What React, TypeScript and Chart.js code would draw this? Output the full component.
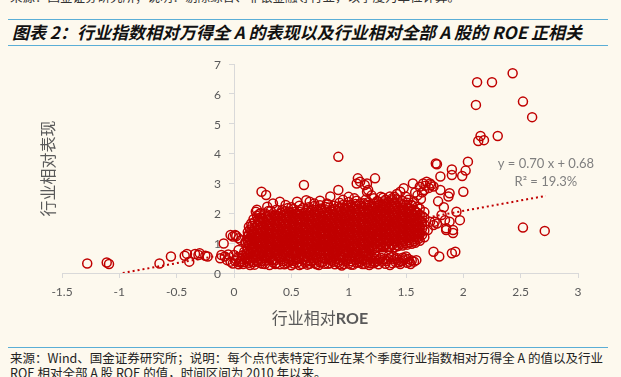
import React, { useEffect, useRef } from "react";
import { Chart, registerables } from "chart.js";

Chart.register(...registerables);

// ---- Data ----
const xTickValues = [-1.5, -1, -0.5, 0, 0.5, 1, 1.5, 2, 2.5, 3];
const yTickValues = [0, 1, 2, 3, 4, 5, 6, 7];

const leftTail: [number, number][] = [
  [-1.28, 0.32], [-1.11, 0.35], [-1.09, 0.3], [-0.65, 0.32], [-0.55, 0.55],
  [-0.43, 0.58], [-0.41, 0.64], [-0.39, 0.38], [-0.34, 0.64], [-0.3, 0.66],
  [-0.31, 0.6], [-0.25, 0.58], [-0.23, 0.55],
];

const nearZero: [number, number][] = [
  [-0.09, 0.99], [-0.03, 1.27], [-0.01, 1.22], [0.02, 1.24], [0.04, 1.16],
  [0.1, 1.01], [0.01, 1.27], [0.1, 1.05], [-0.11, 0.6], [0.06, 1.1],
];

const lowBand: [number, number][] = [
  [-0.12, 0.49], [-0.08, 0.55], [-0.06, 0.43], [-0.03, 0.38], [-0.01, 0.32], [0.02, 0.45], [0.04, 0.77],
  [0.05, 0.36], [0.07, 0.58], [0.08, 0.3], [0.1, 0.5], [0.11, 0.66], [0.13, 0.34], [0.14, 0.41],
  [0.15, 0.72], [0.16, 0.55], [0.18, 0.28], [0.19, 0.62], [0.21, 0.38], [0.22, 0.47], [0.24, 0.7],
  [0.25, 0.31], [0.26, 0.56], [0.28, 0.42], [0.29, 0.65], [0.31, 0.27], [0.32, 0.51], [0.34, 0.36],
  [0.35, 0.74], [0.37, 0.44], [0.38, 0.6], [0.4, 0.29], [0.41, 0.53], [0.43, 0.39], [0.44, 0.68],
  [0.46, 0.33], [0.47, 0.48], [0.49, 0.57], [0.5, 0.26], [0.52, 0.41], [0.53, 0.71], [0.55, 0.35],
  [0.56, 0.5], [0.58, 0.63], [0.59, 0.3], [0.61, 0.45], [0.62, 0.55], [0.64, 0.28], [0.65, 0.69],
  [0.67, 0.39], [0.68, 0.52], [0.7, 0.33], [0.71, 0.61], [0.73, 0.44], [0.74, 0.27], [0.76, 0.58],
  [0.77, 0.37], [0.79, 0.49], [0.8, 0.72], [0.82, 0.31], [0.83, 0.54], [0.85, 0.42], [0.86, 0.64],
  [0.88, 0.29], [0.89, 0.47], [0.91, 0.36], [0.92, 0.59], [0.94, 0.25], [0.95, 0.51], [0.97, 0.4],
  [0.98, 0.67], [1.0, 0.32], [1.01, 0.48], [1.03, 0.56], [1.04, 0.28], [1.06, 0.43], [1.07, 0.62],
  [1.09, 0.35], [1.1, 0.52], [1.12, 0.3], [1.13, 0.46], [1.15, 0.58], [1.16, 0.37], [1.18, 0.27],
  [1.19, 0.5], [1.21, 0.41], [1.22, 0.33], [1.24, 0.55], [1.26, 0.29], [1.27, 0.45], [1.29, 0.38],
  [1.3, 0.6], [1.32, 0.31], [1.34, 0.48], [1.36, 0.27], [1.37, 0.53], [1.39, 0.55], [1.41, 0.36],
  [1.43, 0.44], [1.45, 0.3], [1.47, 0.51], [1.49, 0.49], [1.51, 0.34], [1.53, 0.38], [1.55, 0.42],
  [1.59, 0.43],
  [0.0, 0.6], [0.03, 0.52], [0.06, 0.4], [0.09, 0.71], [0.12, 0.47], [0.17, 0.36], [0.2, 0.57],
  [0.23, 0.33], [0.27, 0.49], [0.3, 0.61], [0.33, 0.43], [0.36, 0.3], [0.39, 0.66], [0.42, 0.46],
  [0.45, 0.58], [0.48, 0.37], [0.51, 0.64], [0.54, 0.46], [0.57, 0.27], [0.6, 0.59], [0.63, 0.41],
  [0.66, 0.31], [0.69, 0.62], [0.72, 0.5], [0.75, 0.36], [0.78, 0.66], [0.81, 0.45], [0.84, 0.33],
  [0.87, 0.57], [0.9, 0.7], [0.93, 0.43], [0.96, 0.3], [0.99, 0.58], [1.02, 0.39], [1.05, 0.69],
  [1.08, 0.47], [1.11, 0.38], [1.14, 0.65], [1.17, 0.45], [1.2, 0.58], [1.23, 0.36], [1.28, 0.51],
  [1.33, 0.4], [1.38, 0.33], [1.42, 0.5], [1.46, 0.4], [1.5, 0.55], [1.54, 0.3],
  [-0.05, 0.62], [0.01, 0.4], [0.04, 0.29], [0.07, 0.48], [0.09, 0.37], [0.12, 0.6], [0.14, 0.27],
  [0.17, 0.5], [0.19, 0.42], [0.22, 0.65], [0.24, 0.4], [0.27, 0.3], [0.29, 0.53], [0.32, 0.68],
  [0.34, 0.46], [0.37, 0.33], [0.39, 0.52], [0.42, 0.63], [0.44, 0.29], [0.47, 0.7], [0.49, 0.44],
  [0.52, 0.32], [0.54, 0.6], [0.57, 0.48], [0.59, 0.69], [0.62, 0.35], [0.64, 0.52], [0.67, 0.63],
  [0.69, 0.42], [0.72, 0.29], [0.74, 0.68], [0.77, 0.5], [0.79, 0.31], [0.82, 0.62], [0.84, 0.48],
  [0.87, 0.38], [0.89, 0.64], [0.92, 0.3], [0.94, 0.54], [0.97, 0.66], [0.99, 0.44], [1.02, 0.28],
  [1.04, 0.6], [1.07, 0.34], [1.09, 0.55], [1.12, 0.44], [1.14, 0.3], [1.17, 0.56], [1.19, 0.33],
  [1.22, 0.48], [1.25, 0.4], [1.31, 0.46], [1.35, 0.58], [1.4, 0.47], [1.44, 0.36], [1.48, 0.43],
  [1.52, 0.47], [1.57, 0.38],
];

// points bridging the low band and the main body
const bridgeRow: [number, number][] = [
  [0.14, 0.66], [0.19, 0.74], [0.24, 0.63], [0.28, 0.71], [0.33, 0.64], [0.38, 0.76], [0.43, 0.62],
  [0.48, 0.73], [0.53, 0.65], [0.58, 0.77], [0.63, 0.66], [0.68, 0.74], [0.73, 0.63], [0.78, 0.75],
  [0.83, 0.68], [0.88, 0.72], [0.93, 0.64], [0.98, 0.76], [1.03, 0.67], [1.08, 0.73], [1.13, 0.7],
  [1.18, 0.66],
];

// main body, read column by column: [ROE, [performance values...]]
const bodyColumns: [number, number[]][] = [
  [0.12, [0.82, 1.04, 1.22, 1.37]],
  [0.14, [0.93, 1.13, 1.46]],
  [0.16, [0.79, 1.0, 1.19, 1.31, 1.58]],
  [0.18, [0.88, 1.09, 1.27, 1.5, 1.71]],
  [0.21, [0.96, 1.16, 1.35, 1.62, 1.79]],
  [0.23, [0.81, 1.02, 1.23, 1.44, 1.67, 1.86]],
  [0.26, [0.9, 1.11, 1.3, 1.54, 1.73]],
  [0.28, [0.77, 0.98, 1.2, 1.41, 1.63, 1.89]],
  [0.31, [0.86, 1.05, 1.28, 1.49, 1.69, 1.93]],
  [0.33, [0.94, 1.15, 1.34, 1.58, 1.8]],
  [0.36, [0.8, 1.01, 1.24, 1.46, 1.65, 1.96]],
  [0.38, [0.89, 1.08, 1.31, 1.53, 1.75, 1.91]],
  [0.41, [0.78, 0.99, 1.19, 1.38, 1.61, 1.84, 2.02]],
  [0.43, [0.87, 1.07, 1.26, 1.49, 1.7, 1.94]],
  [0.46, [0.95, 1.14, 1.37, 1.56, 1.77, 1.99]],
  [0.48, [0.81, 1.02, 1.21, 1.43, 1.65, 1.87, 2.06]],
  [0.51, [0.88, 1.11, 1.32, 1.51, 1.74, 1.95]],
  [0.53, [0.76, 0.97, 1.17, 1.4, 1.61, 1.81, 2.04]],
  [0.56, [0.85, 1.06, 1.25, 1.47, 1.68, 1.91]],
  [0.58, [0.92, 1.12, 1.35, 1.55, 1.77, 1.98, 2.11]],
  [0.61, [0.79, 1.01, 1.22, 1.42, 1.62, 1.86]],
  [0.63, [0.87, 1.09, 1.29, 1.5, 1.72, 1.92, 2.09]],
  [0.66, [0.96, 1.16, 1.36, 1.59, 1.8, 2.01]],
  [0.68, [0.82, 1.03, 1.25, 1.45, 1.66, 1.87, 2.13]],
  [0.71, [0.9, 1.1, 1.33, 1.53, 1.73, 1.97]],
  [0.73, [0.78, 0.99, 1.21, 1.41, 1.63, 1.84, 2.06]],
  [0.76, [0.86, 1.08, 1.28, 1.49, 1.71, 1.91, 2.16]],
  [0.78, [0.94, 1.14, 1.37, 1.57, 1.78, 2.0]],
  [0.81, [0.81, 1.02, 1.22, 1.44, 1.64, 1.88, 2.1]],
  [0.83, [0.89, 1.11, 1.31, 1.52, 1.74, 1.95, 2.19]],
  [0.86, [0.77, 0.98, 1.19, 1.41, 1.6, 1.83, 2.05]],
  [0.88, [0.85, 1.07, 1.27, 1.48, 1.7, 1.9, 2.14]],
  [0.91, [0.93, 1.13, 1.35, 1.56, 1.76, 1.99, 2.23]],
  [0.93, [0.8, 1.01, 1.23, 1.43, 1.65, 1.86, 2.07]],
  [0.96, [0.88, 1.09, 1.3, 1.52, 1.72, 1.93, 2.17]],
  [0.98, [0.76, 0.97, 1.18, 1.39, 1.61, 1.82, 2.03, 2.26]],
  [1.01, [0.84, 1.06, 1.26, 1.47, 1.68, 1.91, 2.12]],
  [1.03, [0.92, 1.12, 1.34, 1.55, 1.77, 1.97, 2.21]],
  [1.06, [0.79, 1.0, 1.21, 1.43, 1.63, 1.85, 2.08, 2.31]],
  [1.08, [0.87, 1.09, 1.29, 1.5, 1.71, 1.94, 2.15]],
  [1.11, [0.95, 1.16, 1.37, 1.58, 1.8, 2.01, 2.24]],
  [1.13, [0.82, 1.03, 1.24, 1.46, 1.66, 1.88, 2.1, 2.34]],
  [1.16, [0.9, 1.11, 1.32, 1.53, 1.75, 1.96, 2.18]],
  [1.18, [0.78, 0.99, 1.2, 1.42, 1.62, 1.84, 2.06, 2.28]],
  [1.21, [0.88, 1.09, 1.31, 1.51, 1.73, 1.94, 2.16]],
  [1.23, [0.96, 1.17, 1.38, 1.6, 1.8, 2.02, 2.25]],
  [1.26, [0.86, 1.07, 1.27, 1.49, 1.69, 1.91, 2.13, 2.37]],
  [1.28, [0.93, 1.14, 1.35, 1.56, 1.78, 1.99, 2.21]],
  [1.31, [0.89, 1.1, 1.3, 1.52, 1.73, 1.95, 2.18, 2.4]],
  [1.33, [0.97, 1.18, 1.4, 1.61, 1.81, 2.03, 2.27]],
  [1.36, [0.87, 1.07, 1.29, 1.49, 1.71, 1.92, 2.14]],
  [1.38, [0.94, 1.15, 1.36, 1.58, 1.78, 2.0, 2.23, 2.44]],
  [1.41, [1.02, 1.23, 1.44, 1.65, 1.86, 2.08, 2.31]],
  [1.43, [0.9, 1.11, 1.33, 1.53, 1.74, 1.96, 2.19]],
  [1.46, [0.98, 1.19, 1.4, 1.62, 1.82, 2.04, 2.27]],
  [1.48, [1.06, 1.27, 1.48, 1.69, 1.9, 2.12]],
  [1.51, [0.95, 1.16, 1.38, 1.58, 1.79, 2.01, 2.35]],
  [1.53, [1.03, 1.24, 1.45, 1.66, 1.87, 2.09]],
  [1.56, [1.12, 1.33, 1.54, 1.75, 1.96]],
  [1.58, [1.01, 1.22, 1.43, 1.64, 1.85, 2.06]],
  [1.61, [1.15, 1.36, 1.57, 1.78]],
  [1.64, [1.28, 1.49, 1.7, 1.91]],
];

// second pass over the main body (points between the first columns)
const bodyColumnsB: [number, number[]][] = [
  [0.13, [0.7, 0.93, 1.15, 1.3, 1.55]],
  [0.15, [0.84, 1.07, 1.25, 1.4, 1.66]],
  [0.17, [0.72, 0.95, 1.13, 1.38, 1.8]],
  [0.2, [0.78, 1.0, 1.2, 1.42, 1.6, 1.92]],
  [0.22, [0.88, 1.08, 1.29, 1.52, 1.74, 1.97]],
  [0.25, [0.74, 0.95, 1.17, 1.36, 1.59, 1.81]],
  [0.27, [0.83, 1.04, 1.25, 1.47, 1.68, 1.99]],
  [0.3, [0.71, 0.91, 1.13, 1.33, 1.56, 1.78]],
  [0.32, [0.79, 1.0, 1.21, 1.41, 1.63, 1.86, 2.08]],
  [0.35, [0.87, 1.08, 1.29, 1.52, 1.72, 1.91]],
  [0.37, [0.73, 0.95, 1.16, 1.38, 1.59, 1.82, 2.12]],
  [0.4, [0.82, 1.03, 1.24, 1.45, 1.67, 1.98]],
  [0.42, [0.71, 0.92, 1.12, 1.32, 1.54, 1.77, 2.1]],
  [0.45, [0.8, 1.01, 1.2, 1.42, 1.63, 1.86, 2.07]],
  [0.47, [0.88, 1.07, 1.29, 1.5, 1.71, 1.92, 2.18]],
  [0.5, [0.74, 0.95, 1.15, 1.37, 1.58, 1.8, 2.01]],
  [0.52, [0.82, 1.04, 1.25, 1.44, 1.67, 1.88, 2.14]],
  [0.55, [0.7, 0.9, 1.11, 1.33, 1.54, 1.75, 1.97]],
  [0.57, [0.78, 0.99, 1.19, 1.4, 1.62, 1.84, 2.05, 2.25]],
  [0.6, [0.86, 1.06, 1.28, 1.48, 1.7, 1.91, 2.17]],
  [0.62, [0.73, 0.94, 1.15, 1.35, 1.56, 1.79, 2.02]],
  [0.65, [0.81, 1.02, 1.22, 1.43, 1.65, 1.86, 2.2]],
  [0.67, [0.89, 1.09, 1.3, 1.52, 1.73, 1.94, 2.08]],
  [0.7, [0.75, 0.96, 1.18, 1.38, 1.59, 1.81, 2.04, 2.24]],
  [0.72, [0.84, 1.04, 1.26, 1.47, 1.67, 1.9, 2.12]],
  [0.75, [0.72, 0.92, 1.14, 1.34, 1.56, 1.77, 1.99, 2.27]],
  [0.77, [0.8, 1.01, 1.21, 1.42, 1.64, 1.85, 2.08]],
  [0.8, [0.88, 1.07, 1.3, 1.5, 1.71, 1.93, 2.21]],
  [0.82, [0.74, 0.95, 1.16, 1.37, 1.58, 1.81, 2.03, 2.3]],
  [0.85, [0.82, 1.04, 1.24, 1.45, 1.67, 1.88, 2.12]],
  [0.87, [0.7, 0.91, 1.12, 1.34, 1.54, 1.76, 1.98, 2.25]],
  [0.9, [0.79, 1.0, 1.2, 1.41, 1.63, 1.84, 2.07]],
  [0.92, [0.86, 1.06, 1.28, 1.49, 1.69, 1.92, 2.16, 2.35]],
  [0.95, [0.73, 0.94, 1.16, 1.36, 1.58, 1.79, 2.0, 2.28]],
  [0.97, [0.81, 1.02, 1.23, 1.45, 1.65, 1.86, 2.1]],
  [1.0, [0.7, 0.9, 1.11, 1.32, 1.54, 1.75, 1.96, 2.19, 2.38]],
  [1.02, [0.77, 0.99, 1.19, 1.4, 1.61, 1.84, 2.05, 2.29]],
  [1.05, [0.85, 1.05, 1.27, 1.48, 1.7, 1.9, 2.14]],
  [1.07, [0.72, 0.93, 1.14, 1.36, 1.56, 1.78, 2.01, 2.24, 2.42]],
  [1.1, [0.8, 1.02, 1.22, 1.43, 1.64, 1.87, 2.08, 2.33]],
  [1.12, [0.88, 1.09, 1.3, 1.51, 1.73, 1.94, 2.17]],
  [1.15, [0.75, 0.96, 1.17, 1.39, 1.59, 1.81, 2.03, 2.27, 2.46]],
  [1.17, [0.83, 1.04, 1.25, 1.46, 1.68, 1.89, 2.11, 2.37]],
  [1.2, [0.92, 1.13, 1.35, 1.55, 1.77, 1.99, 2.21]],
  [1.22, [0.81, 1.02, 1.24, 1.44, 1.66, 1.87, 2.09, 2.32, 2.5]],
  [1.25, [0.89, 1.1, 1.31, 1.53, 1.73, 1.95, 2.18, 2.41]],
  [1.27, [0.97, 1.18, 1.4, 1.61, 1.82, 2.05, 2.28]],
  [1.3, [0.86, 1.03, 1.24, 1.45, 1.66, 1.88, 2.11, 2.33, 2.52]],
  [1.32, [0.93, 1.14, 1.36, 1.57, 1.77, 2.0, 2.22, 2.45]],
  [1.35, [0.88, 1.09, 1.31, 1.51, 1.74, 1.95, 2.17, 2.38]],
  [1.37, [0.98, 1.2, 1.41, 1.62, 1.83, 2.06, 2.29]],
  [1.4, [0.86, 1.07, 1.28, 1.49, 1.71, 1.92, 2.14, 2.36, 2.55]],
  [1.42, [0.94, 1.16, 1.37, 1.58, 1.79, 2.01, 2.24, 2.47]],
  [1.45, [1.05, 1.26, 1.47, 1.68, 1.89, 2.11, 2.33]],
  [1.47, [0.92, 1.12, 1.33, 1.54, 1.75, 1.97, 2.19, 2.41]],
  [1.5, [1.0, 1.21, 1.42, 1.63, 1.84, 2.06, 2.28]],
  [1.52, [1.1, 1.31, 1.52, 1.73, 1.94, 2.16, 2.45]],
  [1.55, [0.98, 1.19, 1.4, 1.61, 1.82, 2.04, 2.26]],
  [1.57, [1.06, 1.27, 1.48, 1.69, 1.9, 2.12, 2.38]],
  [1.6, [1.2, 1.4, 1.61, 1.82, 2.02, 2.22]],
  [1.62, [1.08, 1.3, 1.52, 1.73, 1.95, 2.15]],
  [1.66, [1.2, 1.42, 1.62, 1.84, 2.04]],
];

const upperScatter: [number, number][] = [
  [0.19, 2.05], [0.23, 2.0], [0.24, 2.72], [0.28, 2.61], [0.29, 2.22], [0.34, 2.33], [0.4, 2.39],
  [0.55, 2.39], [0.61, 2.95], [0.63, 2.44], [0.66, 2.39], [0.81, 2.33], [0.84, 2.56], [0.91, 2.78],
  [0.91, 3.89], [1.07, 3.0], [1.08, 3.17], [1.1, 3.06], [1.14, 2.95], [1.16, 2.72], [1.16, 3.0],
  [1.17, 2.78], [1.23, 3.17], [1.36, 2.56], [1.38, 2.5], [1.45, 2.72], [1.48, 2.84], [1.53, 2.17],
  [1.55, 2.28], [1.56, 3.0], [1.62, 2.89], [1.65, 3.0], [1.68, 3.06], [1.71, 3.0], [1.6, 2.6],
  [1.63, 2.48], [1.58, 2.7], [1.66, 2.78],
  [0.2, 2.12], [0.3, 2.08], [0.45, 2.28], [0.5, 2.2], [0.7, 2.33], [0.75, 2.42], [0.95, 2.45],
  [1.0, 2.55], [1.05, 2.5], [1.2, 2.6], [1.28, 2.55], [1.42, 2.65], [1.5, 2.55],
];

const rightGroup: [number, number][] = [
  [1.76, 3.67], [1.77, 3.64], [2.04, 3.73], [1.9, 3.47], [2.02, 3.43], [1.99, 3.25], [1.8, 3.23],
  [1.9, 3.28], [2.0, 2.72], [1.88, 2.67], [1.87, 2.56], [1.8, 2.78], [2.52, 1.52], [2.71, 1.41],
  [1.94, 2.05], [1.97, 1.77], [1.91, 1.44], [1.91, 1.34], [1.74, 0.71], [1.79, 0.55], [1.9, 0.66],
  [1.93, 0.71], [1.81, 1.94], [1.71, 1.72], [1.75, 1.72], [1.85, 1.5], [1.74, 1.61], [1.77, 1.66],
  [1.84, 1.77], [1.88, 1.72], [1.69, 1.44], [1.62, 1.33], [1.85, 1.44], [1.72, 2.95], [1.7, 2.85],
  [1.74, 2.9], [1.67, 2.92], [1.64, 2.7], [1.78, 2.4], [1.83, 2.2],
];

const topOutliers: [number, number][] = [
  [2.43, 6.69], [2.12, 6.39], [2.25, 6.39], [2.11, 5.63], [2.52, 5.74], [2.6, 5.22],
  [2.15, 4.59], [2.13, 4.42], [2.18, 4.45], [2.3, 4.59],
];

const trendSlope = 0.7;
const trendIntercept = 0.68;
const trendR2 = "19.3%";
const trendFrom = -0.97;
const trendTo = 2.72;

const titleText = "图表 2：行业指数相对万得全 A 的表现以及行业相对全部 A 股的 ROE 正相关";
const yTitle = "行业相对表现";
const xTitleCn = "行业相对";
const xTitleEn = "ROE";
const sourceLine1 = "来源：Wind、国金证券研究所；说明：每个点代表特定行业在某个季度行业指数相对万得全  A  的值以及行业";
const sourceLine2 = "ROE 相对全部 A 股 ROE 的值，时间区间为 2010 年以来。";
const topCutText = "来源：国金证券研究所；说明：剔除综合、非银金融等行业，以季度为单位计算。";

const RED = "#c00000";
const BG = "#fdf9ee";
const BLUE = "#5aaed6";
const TICK_COLOR = "#595959";

export default function App() {
  const canvasRef = useRef<HTMLCanvasElement | null>(null);

  useEffect(() => {
    const canvas = canvasRef.current;
    if (!canvas) return;

    const points: { x: number; y: number }[] = [];
    const pushAll = (arr: [number, number][]) => arr.forEach(([x, y]) => points.push({ x, y }));
    pushAll(leftTail);
    pushAll(nearZero);
    pushAll(lowBand);
    pushAll(bridgeRow);
    bodyColumns.forEach(([x, ys]) => ys.forEach((y) => points.push({ x, y })));
    bodyColumnsB.forEach(([x, ys]) => ys.forEach((y) => points.push({ x, y })));
    pushAll(upperScatter);
    pushAll(rightGroup);
    pushAll(topOutliers);

    const trend = [
      { x: trendFrom, y: trendSlope * trendFrom + trendIntercept },
      { x: trendTo, y: trendSlope * trendTo + trendIntercept },
    ];

    const textPlugin = {
      id: "extraText",
      afterDraw(chart: any) {
        const { ctx, chartArea, scales } = chart;
        ctx.save();
        // y tick labels, from the y scale's own ticks, left of the y axis at x = 0
        ctx.fillStyle = TICK_COLOR;
        ctx.font = "12px Lato";
        ctx.textAlign = "right";
        ctx.textBaseline = "middle";
        const axisX = scales.x.getPixelForValue(0);
        scales.y.ticks.forEach((t: any) => {
          ctx.fillText(String(t.value), axisX - 13, scales.y.getPixelForValue(t.value) + 1);
        });
        // equation
        ctx.fillStyle = "#7f7f7f";
        ctx.font = "13px Lato";
        ctx.textAlign = "center";
        const ex = scales.x.getPixelForValue(2.72);
        ctx.fillText(
          `y = ${trendSlope.toFixed(2)} x + ${trendIntercept.toFixed(2)}`,
          ex,
          scales.y.getPixelForValue(3.65)
        );
        ctx.fillText(`R² = ${trendR2}`, ex, scales.y.getPixelForValue(3.06));
        // y title
        ctx.fillStyle = "#595959";
        ctx.font = '16px "Noto Sans CJK SC"';
        ctx.save();
        ctx.translate(chartArea.left - 14, (chartArea.top + chartArea.bottom) / 2);
        ctx.rotate(-Math.PI / 2);
        ctx.fillText(yTitle, 0, 0);
        ctx.restore();
        // x title
        ctx.font = '16px "Noto Sans CJK SC"';
        const w1 = ctx.measureText(xTitleCn).width;
        ctx.font = "bold 16px Lato";
        const w2 = ctx.measureText(xTitleEn).width;
        const cx = (chartArea.left + chartArea.right) / 2;
        const ty = chartArea.bottom + 45;
        ctx.textAlign = "left";
        ctx.font = '16px "Noto Sans CJK SC"';
        ctx.fillText(xTitleCn, cx - (w1 + w2) / 2, ty);
        ctx.font = "bold 16px Lato";
        ctx.fillText(xTitleEn, cx - (w1 + w2) / 2 + w1, ty + 1);
        ctx.restore();
      },
    };

    const chart = new Chart(canvas, {
      type: "scatter",
      data: {
        datasets: [
          {
            data: points,
            borderColor: RED,
            backgroundColor: "rgba(0,0,0,0)",
            borderWidth: 1.5,
            pointRadius: 4.5,
            pointHoverRadius: 4.5,
            order: 2,
          },
          {
            type: "line",
            data: trend,
            borderColor: RED,
            borderWidth: 2,
            borderDash: [2, 3],
            pointRadius: 0,
            showLine: true,
            fill: false,
            order: 1,
          } as any,
        ],
      },
      options: {
        animation: false,
        responsive: false,
        devicePixelRatio: 1,
        layout: { padding: { left: 62, right: 43, top: 14, bottom: 37 } },
        plugins: { legend: { display: false }, tooltip: { enabled: false } },
        scales: {
          x: {
            type: "linear",
            position: "bottom",
            min: -1.5,
            max: 3,
            afterBuildTicks: (s: any) => {
              s.ticks = xTickValues.map((v) => ({ value: v }));
            },
            afterFit: (s: any) => {
              s.height = 30;
            },
            ticks: {
              color: TICK_COLOR,
              font: { family: "Lato", size: 12 },
              padding: 7,
              maxRotation: 0,
              callback: (v: any) => String(v),
            },
            grid: { display: true, drawOnChartArea: false, drawTicks: true, tickLength: 5, color: "#d9d9d9" },
            border: { color: "#d9d9d9", width: 1 },
          },
          y: {
            type: "linear",
            position: { x: 0 } as any,
            min: 0,
            max: 7,
            afterBuildTicks: (s: any) => {
              s.ticks = yTickValues.map((v) => ({ value: v }));
            },
            afterFit: (s: any) => {
              s.width = 0;
            },
            ticks: { display: false },
            grid: { display: true, drawOnChartArea: false, drawTicks: true, tickLength: 5, color: "#d9d9d9" },
            border: { color: "#d9d9d9", width: 1 },
          },
        },
      },
      plugins: [textPlugin],
    });
    return () => chart.destroy();
  }, []);

  const cjkSans = '"Noto Sans CJK SC", sans-serif';
  return (
    <div
      style={{
        position: "absolute",
        left: 0,
        top: 0,
        width: 621,
        height: 377,
        background: BG,
        overflow: "hidden",
        fontFamily: cjkSans,
      }}
    >
      <div style={{ position: "absolute", left: 10, top: -13, fontSize: 12.5, color: "#333", whiteSpace: "nowrap" }}>
        {topCutText}
      </div>
      <div style={{ position: "absolute", left: 8, top: 19, width: 600, height: 0, borderTop: `1.5px solid ${BLUE}` }} />
      <div
        style={{
          position: "absolute",
          left: 12,
          top: 21,
          fontSize: 17,
          lineHeight: "22px",
          fontWeight: "bold",
          fontStyle: "italic",
          color: "#111",
          whiteSpace: "nowrap",
        }}
      >
        {titleText}
      </div>
      <div style={{ position: "absolute", left: 8, top: 44.5, width: 600, height: 0, borderTop: `1.5px solid ${BLUE}` }} />
      <canvas
        ref={canvasRef}
        width={621}
        height={290}
        style={{ position: "absolute", left: 0, top: 50, width: 621, height: 290 }}
      />
      <div style={{ position: "absolute", left: 8, top: 346.5, width: 600, height: 0, borderTop: `1.5px solid ${BLUE}` }} />
      <div style={{ position: "absolute", left: 10, top: 350, fontSize: 12.5, lineHeight: "16px", color: "#222", whiteSpace: "nowrap" }}>
        {sourceLine1}
      </div>
      <div style={{ position: "absolute", left: 10, top: 365, fontSize: 12.5, lineHeight: "16px", color: "#222", whiteSpace: "nowrap" }}>
        {sourceLine2}
      </div>
    </div>
  );
}
